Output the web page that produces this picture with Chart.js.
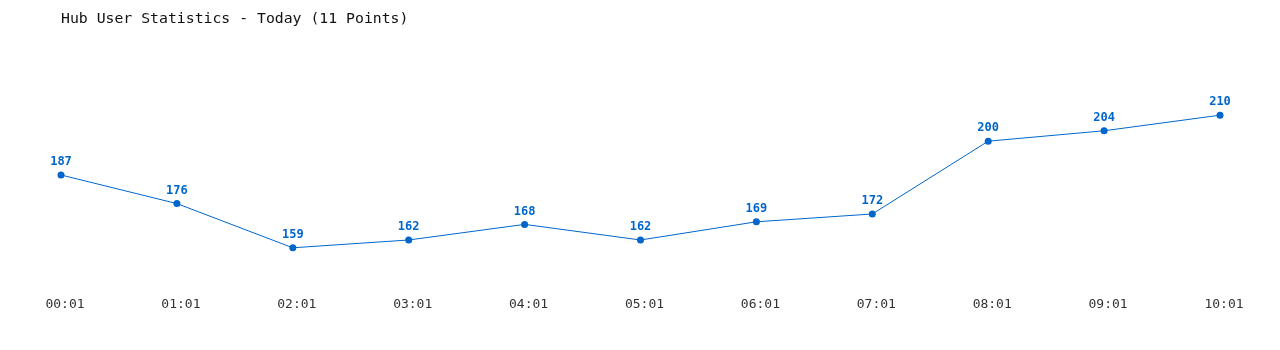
<!DOCTYPE html>
<html>
<head>
<meta charset="utf-8">
<script src="https://cdn.jsdelivr.net/npm/chart.js@4/dist/chart.umd.min.js"></script>
<style>
  html, body { margin: 0; padding: 0; background: #fff; }
  #wrap { width: 1280px; height: 350px; position: relative; }
</style>
</head>
<body>
<div id="wrap"><canvas id="hub_chart"></canvas></div>
<script>
// data
var times = ['00:01', '01:01', '02:01', '03:01', '04:01', '05:01', '06:01', '07:01', '08:01', '09:01', '10:01'];
var users = [187, 176, 159, 162, 168, 162, 169, 172, 200, 204, 210];
var chartTitle = 'Hub User Statistics - Today (11 Points)';

var blue = '#0066cc';
var mono = "'DejaVu Sans Mono', 'Liberation Mono', monospace";

// draws the value above each point
var valueLabels = {
  id: 'valueLabels',
  afterDatasetsDraw: function (chart) {
    var ctx = chart.ctx;
    var meta = chart.getDatasetMeta(0);
    ctx.save();
    ctx.font = 'bold 12px ' + mono;
    ctx.fillStyle = blue;
    ctx.textAlign = 'center';
    ctx.textBaseline = 'middle';
    meta.data.forEach(function (pt, i) {
      ctx.fillText(String(users[i]), pt.x, pt.y - 13);
    });
    ctx.restore();
  }
};

var ctx = document.getElementById('hub_chart').getContext('2d');
var chartInstance = new Chart(ctx, {
  type: 'line',
  data: {
    labels: times,
    datasets: [{
      label: 'Users',
      data: users,
      borderColor: blue,
      backgroundColor: blue,
      borderWidth: 1,
      pointRadius: 3.5,
      pointBackgroundColor: blue,
      pointBorderColor: blue,
      pointBorderWidth: 0,
      tension: 0,
      fill: false
    }]
  },
  options: {
    responsive: true,
    maintainAspectRatio: false,
    animation: false,
    layout: { padding: { left: 61, right: 60, top: 10, bottom: 31 } },
    plugins: {
      legend: { display: false },
      tooltip: { enabled: false },
      title: {
        display: true,
        text: chartTitle,
        align: 'start',
        color: '#111',
        font: { family: mono, size: 14.8, weight: 'normal' },
        padding: { top: 0, bottom: 12 }
      }
    },
    scales: {
      x: {
        grid: { display: false, drawTicks: false },
        border: { display: false },
        ticks: { color: '#333', font: { family: mono, size: 13 }, padding: 7, labelOffset: 4, maxRotation: 0, autoSkip: false }
      },
      y: {
        display: false,
        min: 143,
        max: 239
      }
    }
  },
  plugins: [valueLabels]
});
</script>
</body>
</html>
